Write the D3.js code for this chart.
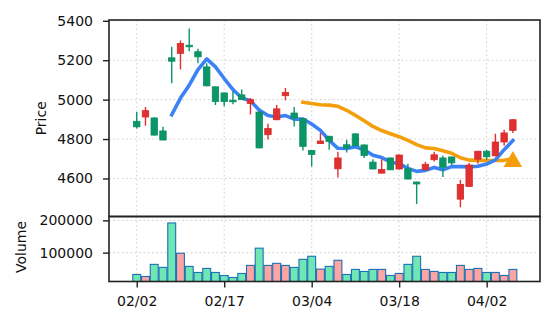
<!DOCTYPE html>
<html>
<head>
<meta charset="utf-8">
<script src="https://cdn.jsdelivr.net/npm/d3@7"></script>
<style>
  html, body { margin: 0; padding: 0; background: #fff; }
  svg { display: block; }
</style>
</head>
<body>
<svg id="chart" width="556" height="327"></svg>
<script>
// Trading session labels (one per candle)
const dates = [
  "02/02","02/05","02/06","02/07","02/08","02/09","02/12","02/13","02/14","02/16",
  "02/17","02/18","02/19","02/20","02/23","02/24","02/25","02/26","02/27","03/02",
  "03/04","03/05","03/06","03/09","03/10","03/11","03/12","03/13","03/16","03/17",
  "03/18","03/19","03/20","03/23","03/24","03/25","03/26","03/27","03/30","03/31",
  "04/02","04/03","04/06","04/07"
];

const open  = [4890,4912,4907,4841,5212,5235,5276,5243,5166,5065,5034,4997,5024,4980,4937,4822,4898,5020,4932,4903,4742,4777,4814,4649,4771,4826,4770,4683,4627,4704,4648,4649,4582,4644,4695,4704,4709,4495,4559,4698,4738,4715,4785,4844];
const high  = [4937,4963,4910,4863,5268,5300,5361,5258,5185,5068,5036,5044,5051,5008,4940,4878,4973,5059,4963,4908,4745,4831,4817,4736,4797,4830,4772,4698,4698,4706,4720,4675,4583,4685,4736,4715,4711,4593,4678,4740,4745,4827,4847,4900];
const low   = [4854,4868,4818,4795,5083,5153,5246,5185,5068,4973,4966,4976,4998,4925,4753,4798,4895,4997,4864,4742,4661,4776,4746,4605,4732,4764,4704,4647,4626,4642,4646,4596,4470,4642,4686,4607,4668,4454,4557,4675,4695,4713,4766,4831];
const close = [4862,4944,4820,4795,5195,5285,5268,5217,5070,4990,4990,4989,5000,5000,4755,4853,4953,5036,4907,4763,4722,4790,4788,4704,4755,4766,4716,4648,4646,4644,4719,4597,4572,4672,4720,4657,4679,4570,4668,4738,4710,4785,4831,4898];
const volume = [32300,26000,63600,54200,192000,98000,57300,38500,51000,38500,29000,23000,35400,60400,113800,60400,66800,60400,54200,79300,88700,48900,57300,76200,32300,48000,41700,48000,48000,29200,35400,63600,88700,48000,41700,38500,38500,60400,48000,51000,38500,38500,29200,48000];

// 5-session average, first value at session 4
const ma5Start = 4;
const ma5 = [4923,5008,5073,5152,5207,5166,5107,5051,5008,4994,4947,4919,4912,4919,4901,4902,4876,4844,4794,4753,4752,4761,4746,4718,4706,4684,4675,4651,4636,4641,4656,4644,4660,4660,4659,4662,4673,4694,4746,4792];
// 20-session average, first value at session 19
const ma20Start = 19;
const ma20 = [4987,4980,4974,4972,4966,4946,4920,4893,4864,4843,4827,4812,4793,4772,4755,4752,4741,4728,4705,4693,4692,4691,4691,4692,4700];

// Signal marker
const signalIndex = 43;
const signalPrice = 4690;

const xTickIndex = [0, 10, 20, 30, 40];
const priceTicks = [4600, 4800, 5000, 5200, 5400];
const volumeTicks = [100000, 200000];

const colUp = "#e0302f", colDown = "#0b9669";
const volUp = "#fca5a3", volDown = "#6ee7b5", volEdge = "#1f6fb6";
const font = "DejaVu Sans";

const svg = d3.select("#chart");
const L = 109, R = 540, pTop = 20, pBot = 216.5, vTop = 216.5, vBot = 281.5;

const x = d3.scaleLinear().domain([-3.17, 46.1]).range([L, R]);
const yP = d3.scaleLinear().domain([4407, 5404]).range([pBot, pTop]);
const yV = d3.scaleLinear().domain([10500, 212000]).range([vBot, vTop]);

const idx = d3.range(dates.length);
const isUp = i => close[i] >= open[i];

svg.append("defs").call(d => {
  d.append("clipPath").attr("id", "clipP").append("rect")
    .attr("x", L).attr("y", pTop).attr("width", R - L).attr("height", pBot - pTop);
  d.append("clipPath").attr("id", "clipV").append("rect")
    .attr("x", L).attr("y", vTop).attr("width", R - L).attr("height", vBot - vTop);
});

// grid
const grid = svg.append("g").attr("stroke", "#d6d6d6").attr("stroke-width", 1.1)
  .attr("stroke-dasharray", "1.7,2.6");
xTickIndex.forEach(i => {
  grid.append("line").attr("x1", x(i)).attr("x2", x(i)).attr("y1", pTop).attr("y2", pBot);
  grid.append("line").attr("x1", x(i)).attr("x2", x(i)).attr("y1", vTop).attr("y2", vBot);
});
priceTicks.forEach(v => grid.append("line").attr("x1", L).attr("x2", R).attr("y1", yP(v)).attr("y2", yP(v)));
volumeTicks.forEach(v => grid.append("line").attr("x1", L).attr("x2", R).attr("y1", yV(v)).attr("y2", yV(v)));

// moving averages
const pricePanel = svg.append("g").attr("clip-path", "url(#clipP)");
const lineGen = start => d3.line().x((d, k) => x(start + k)).y(d => yP(d));
pricePanel.append("path").datum(ma20).attr("d", lineGen(ma20Start))
  .attr("fill", "none").attr("stroke", "#f59e0b").attr("stroke-width", 3.6)
  .attr("stroke-linejoin", "round").attr("stroke-linecap", "square");
pricePanel.append("path").datum(ma5).attr("d", lineGen(ma5Start))
  .attr("fill", "none").attr("stroke", "#3b82f6").attr("stroke-width", 3.6)
  .attr("stroke-linejoin", "round").attr("stroke-linecap", "square");

// candlesticks
const bodyW = 6.4;
const candles = pricePanel.append("g").selectAll("g").data(idx).join("g");
candles.append("line")
  .attr("x1", i => x(i)).attr("x2", i => x(i))
  .attr("y1", i => yP(high[i])).attr("y2", i => yP(low[i]))
  .attr("stroke", i => isUp(i) ? colUp : colDown).attr("stroke-width", 1.4);
candles.append("rect")
  .attr("x", i => x(i) - bodyW / 2).attr("width", bodyW)
  .attr("y", i => yP(Math.max(open[i], close[i])))
  .attr("height", i => Math.max(1.2, Math.abs(yP(open[i]) - yP(close[i]))))
  .attr("fill", i => isUp(i) ? colUp : colDown)
  .attr("stroke", i => isUp(i) ? "#d42a2a" : "#0a8c61").attr("stroke-width", 0.8);

// signal marker
const tri = d3.symbol().type(d3.symbolTriangle).size(150);
pricePanel.append("path").attr("d", tri())
  .attr("transform", `translate(${x(signalIndex)},${yP(signalPrice) + 1})`)
  .attr("fill", "#f59e0b");

// volume bars
const barW = 7.9;
svg.append("g").attr("clip-path", "url(#clipV)").selectAll("rect").data(idx).join("rect")
  .attr("x", i => x(i) - barW / 2).attr("width", barW)
  .attr("y", i => yV(volume[i])).attr("height", i => yV(0) - yV(volume[i]))
  .attr("fill", i => isUp(i) ? volUp : volDown)
  .attr("stroke", volEdge).attr("stroke-width", 1.1);

// axes
function styleAxis(g) {
  g.select(".domain").remove();
  g.selectAll("text").attr("font-family", font).attr("font-size", 14).attr("fill", "#111");
  g.selectAll("line").attr("stroke", "#222").attr("stroke-width", 1.4);
}
svg.append("g").attr("transform", `translate(${L},0)`)
  .call(d3.axisLeft(yP).tickValues(priceTicks).tickSize(6).tickPadding(10).tickFormat(d3.format("d")))
  .call(styleAxis);
svg.append("g").attr("transform", `translate(${L},0)`)
  .call(d3.axisLeft(yV).tickValues(volumeTicks).tickSize(6).tickPadding(10).tickFormat(d3.format("d")))
  .call(styleAxis);
svg.append("g").attr("transform", `translate(0,${vBot})`)
  .call(d3.axisBottom(x).tickValues(xTickIndex).tickSize(6).tickPadding(9).tickFormat(i => dates[i]))
  .call(styleAxis);

// frames
[[pTop, pBot], [vTop, vBot]].forEach(([t, b]) => {
  svg.append("rect").attr("x", L).attr("y", t).attr("width", R - L).attr("height", b - t)
    .attr("fill", "none").attr("stroke", "#222").attr("stroke-width", 1.6);
});

// axis titles
svg.append("text").attr("transform", `translate(46,${(pTop + pBot) / 2}) rotate(-90)`)
  .attr("text-anchor", "middle").attr("font-family", font).attr("font-size", 14).attr("fill", "#111")
  .text("Price");
svg.append("text").attr("transform", `translate(26,${(vTop + vBot) / 2 - 2}) rotate(-90)`)
  .attr("text-anchor", "middle").attr("font-family", font).attr("font-size", 14).attr("fill", "#111")
  .text("Volume");
</script>
</body>
</html>
